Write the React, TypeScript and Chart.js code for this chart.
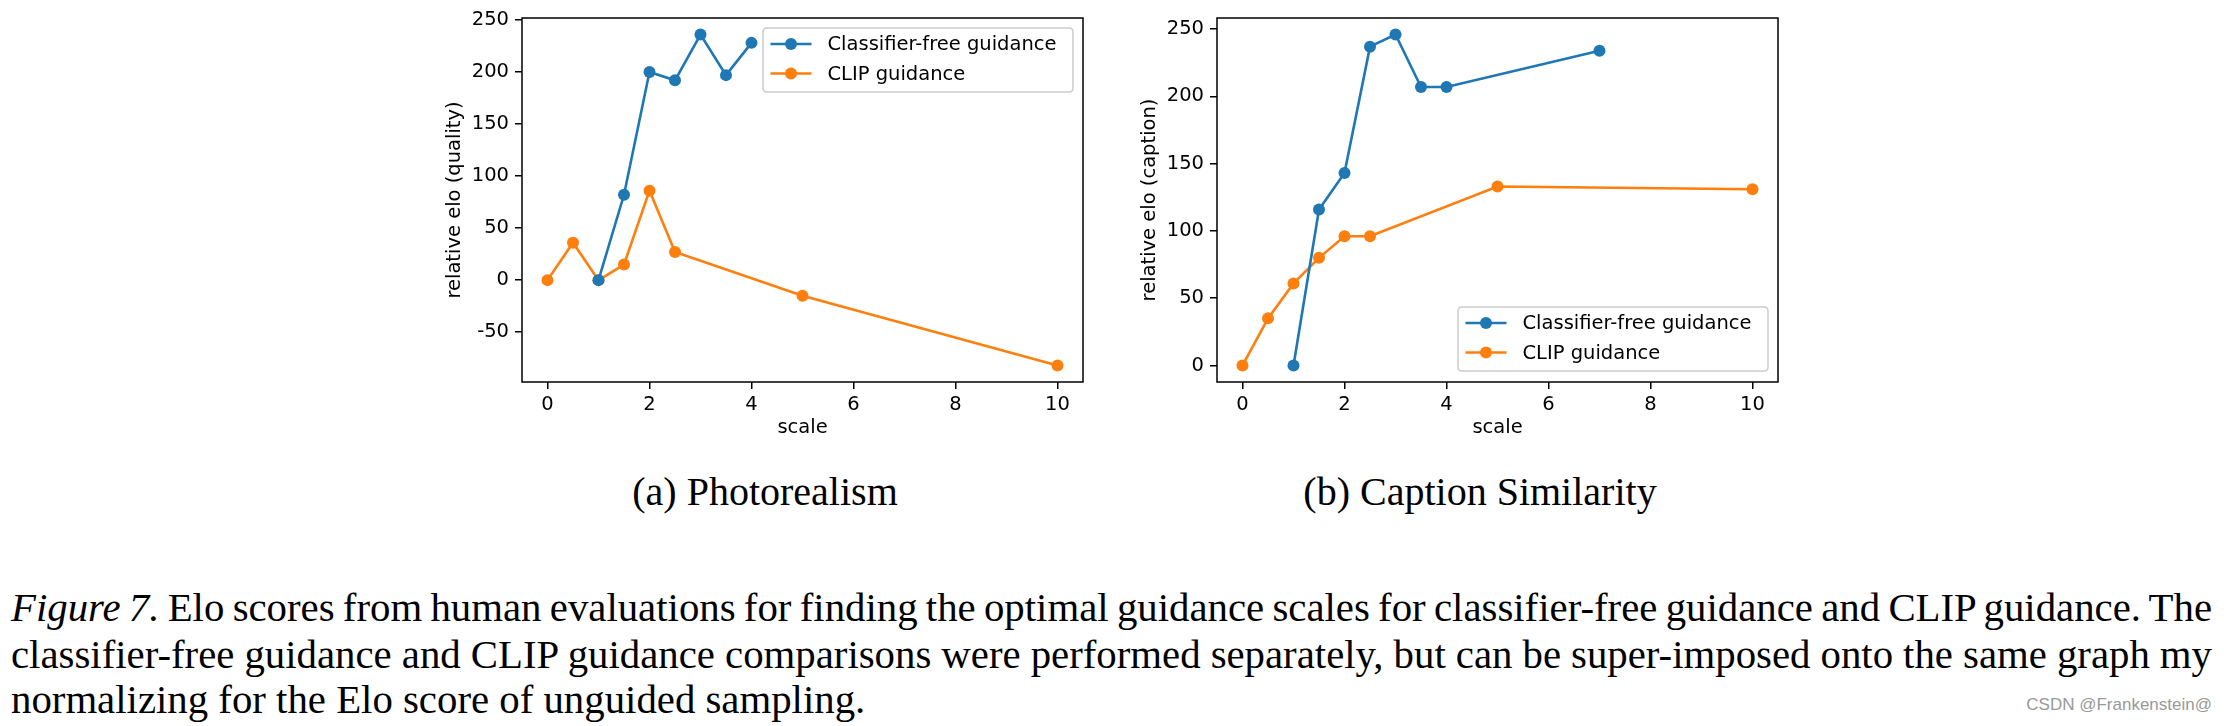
import React, { useEffect, useRef } from 'react';
import { Chart, registerables } from 'chart.js';

Chart.register(...registerables);

// ---- data ----
const seriesLabels = ['Classifier-free guidance', 'CLIP guidance'];
const seriesColors = ['#1f77b4', '#ff7f0e'];

const scaleA_cf = [1, 1.5, 2, 2.5, 3, 3.5, 4];
const eloA_cf = [0, 82, 200, 192, 236, 197, 228];
const scaleA_clip = [0, 0.5, 1, 1.5, 2, 2.5, 5, 10];
const eloA_clip = [0, 36, 0, 15, 86, 27, -15, -82];

const scaleB_cf = [1, 1.5, 2, 2.5, 3, 3.5, 4, 7];
const eloB_cf = [0, 116, 143, 237, 246, 207, 207, 234];
const scaleB_clip = [0, 0.5, 1, 1.5, 2, 2.5, 5, 10];
const eloB_clip = [0, 35, 61, 80, 96, 96, 133, 131];

const xTicks = [0, 2, 4, 6, 8, 10];
const yTicksA = [-50, 0, 50, 100, 150, 200, 250];
const yTicksB = [0, 50, 100, 150, 200, 250];

const FONT = '"DejaVu Sans", "Liberation Sans", sans-serif';
const FS = 19.5;

function pts(xs: number[], ys: number[]) {
  return xs.map((x, i) => ({ x, y: ys[i] }));
}

function marginRange(vals: number[]) {
  const lo = Math.min(...vals);
  const hi = Math.max(...vals);
  const m = (hi - lo) * 0.05;
  return [lo - m, hi + m];
}

const framePlugin = {
  id: 'frame',
  afterDatasetsDraw(chart: any) {
    const { ctx, chartArea } = chart;
    ctx.save();
    ctx.strokeStyle = '#000';
    ctx.lineWidth = 1.5;
    ctx.strokeRect(chartArea.left, chartArea.top, chartArea.right - chartArea.left, chartArea.bottom - chartArea.top);
    ctx.restore();
  },
};

const boxLegendPlugin = {
  id: 'boxLegend',
  afterDraw(chart: any, _args: any, opts: any) {
    const { ctx, chartArea } = chart;
    const w = 310;
    const h = 64;
    const x = chartArea.right - 10 - w;
    const y = opts.corner === 'top' ? chartArea.top + 10 : chartArea.bottom - 11 - h;
    ctx.save();
    const r = 4;
    ctx.beginPath();
    ctx.moveTo(x + r, y);
    ctx.lineTo(x + w - r, y);
    ctx.quadraticCurveTo(x + w, y, x + w, y + r);
    ctx.lineTo(x + w, y + h - r);
    ctx.quadraticCurveTo(x + w, y + h, x + w - r, y + h);
    ctx.lineTo(x + r, y + h);
    ctx.quadraticCurveTo(x, y + h, x, y + h - r);
    ctx.lineTo(x, y + r);
    ctx.quadraticCurveTo(x, y, x + r, y);
    ctx.closePath();
    ctx.fillStyle = 'rgba(255,255,255,0.8)';
    ctx.fill();
    ctx.strokeStyle = '#cccccc';
    ctx.lineWidth = 1.5;
    ctx.stroke();
    chart.data.datasets.forEach((ds: any, i: number) => {
      const cy = y + 16 + i * 29.5;
      const x0 = x + 7.5;
      const x1 = x0 + 41;
      ctx.strokeStyle = ds.borderColor;
      ctx.lineWidth = 2.6;
      ctx.beginPath();
      ctx.moveTo(x0, cy);
      ctx.lineTo(x1, cy);
      ctx.stroke();
      ctx.fillStyle = ds.borderColor;
      ctx.beginPath();
      ctx.arc((x0 + x1) / 2, cy, 6, 0, Math.PI * 2);
      ctx.fill();
      ctx.fillStyle = '#000';
      ctx.font = `${FS}px ${FONT}`;
      ctx.textBaseline = 'middle';
      ctx.textAlign = 'left';
      ctx.fillText(ds.label, x1 + 16, cy + 1);
    });
    ctx.restore();
  },
};

type PanelProps = {
  left: number;
  cfX: number[];
  cfY: number[];
  clipX: number[];
  clipY: number[];
  yTicks: number[];
  yLabel: string;
  yAxisWidth: number;
  yTitlePad: number;
  rightPad: number;
  legendCorner: 'top' | 'bottom';
};

const W = 700;
const H = 460;

function Panel(p: PanelProps) {
  const ref = useRef<HTMLCanvasElement | null>(null);
  useEffect(() => {
    if (!ref.current) return;
    const [ymin, ymax] = marginRange([...p.cfY, ...p.clipY]);
    const [xmin, xmax] = marginRange([...p.cfX, ...p.clipX]);
    const mkDs = (i: number, xs: number[], ys: number[]) => ({
      label: seriesLabels[i],
      data: pts(xs, ys),
      borderColor: seriesColors[i],
      backgroundColor: seriesColors[i],
      pointBackgroundColor: seriesColors[i],
      pointBorderWidth: 0,
      pointRadius: 6,
      borderWidth: 2.6,
      showLine: true,
      tension: 0,
      clip: false as any,
    });
    const tickFont = { family: FONT, size: FS };
    const chart = new Chart(ref.current, {
      type: 'line',
      data: {
        datasets: [mkDs(0, p.cfX, p.cfY), mkDs(1, p.clipX, p.clipY)],
      },
      options: {
        animation: false,
        responsive: false,
        devicePixelRatio: 1,
        layout: { padding: { left: 0, top: 18, right: p.rightPad, bottom: 0 } },
        plugins: {
          legend: { display: false },
          tooltip: { enabled: false },
          boxLegend: { corner: p.legendCorner },
        } as any,
        scales: {
          x: {
            type: 'linear',
            min: xmin,
            max: xmax,
            afterBuildTicks: (ax: any) => {
              ax.ticks = xTicks.map((v) => ({ value: v }));
            },
            afterFit: (ax: any) => {
              ax.height = 78;
            },
            grid: { drawOnChartArea: false, drawTicks: true, tickLength: 7, color: '#000', lineWidth: 1.5 },
            border: { display: false },
            ticks: { color: '#000', font: tickFont, padding: 4, maxRotation: 0, callback: (v: any) => String(v) },
            title: {
              display: true,
              text: 'scale',
              color: '#000',
              font: tickFont,
              padding: { top: 0, bottom: 20.3 },
            },
          },
          y: {
            type: 'linear',
            min: ymin,
            max: ymax,
            afterBuildTicks: (ax: any) => {
              ax.ticks = p.yTicks.map((v) => ({ value: v }));
            },
            afterFit: (ax: any) => {
              ax.width = p.yAxisWidth;
            },
            grid: { drawOnChartArea: false, drawTicks: true, tickLength: 7, color: '#000', lineWidth: 1.5 },
            border: { display: false },
            ticks: { color: '#000', font: tickFont, padding: 6, callback: (v: any) => String(v) },
            title: {
              display: true,
              text: p.yLabel,
              color: '#000',
              font: tickFont,
              padding: { top: p.yTitlePad, bottom: 0 },
            },
          },
        },
      } as any,
      plugins: [framePlugin, boxLegendPlugin],
    });
    return () => chart.destroy();
  }, []);
  return (
    <canvas
      ref={ref}
      width={W}
      height={H}
      style={{ position: 'absolute', left: p.left, top: 0, width: W, height: H }}
    />
  );
}

const serif = '"Liberation Serif", "Times New Roman", serif';

export default function App() {
  const lineStyle: React.CSSProperties = {
    position: 'absolute',
    left: 11,
    width: 2201,
    height: 46,
    lineHeight: '46px',
    fontSize: 40.8,
    fontFamily: serif,
    color: '#000',
    whiteSpace: 'nowrap',
  };
  const justified: React.CSSProperties = {
    textAlign: 'justify',
    textAlignLast: 'justify',
    whiteSpace: 'normal',
    wordSpacing: -5,
  };
  return (
    <div style={{ position: 'absolute', left: 0, top: 0, width: 2224, height: 726, background: '#fff', overflow: 'hidden' }}>
      <Panel
        left={420}
        cfX={scaleA_cf}
        cfY={eloA_cf}
        clipX={scaleA_clip}
        clipY={eloA_clip}
        yTicks={yTicksA}
        yLabel="relative elo (quality)"
        yAxisWidth={102}
        yTitlePad={23}
        rightPad={37}
        legendCorner="top"
      />
      <Panel
        left={1110}
        cfX={scaleB_cf}
        cfY={eloB_cf}
        clipX={scaleB_clip}
        clipY={eloB_clip}
        yTicks={yTicksB}
        yLabel="relative elo (caption)"
        yAxisWidth={107}
        yTitlePad={28.3}
        rightPad={32}
        legendCorner="bottom"
      />
      <div style={{ position: 'absolute', left: 565, width: 400, top: 469, height: 46, lineHeight: '46px', fontSize: 40, fontFamily: serif, textAlign: 'center' }}>
        (a) Photorealism
      </div>
      <div style={{ position: 'absolute', left: 1280, width: 400, top: 469, height: 46, lineHeight: '46px', fontSize: 40, fontFamily: serif, textAlign: 'center' }}>
        (b) Caption Similarity
      </div>
      <div style={{ ...lineStyle, ...justified, top: 585 }}>
        <i>Figure 7.</i> Elo scores from human evaluations for finding the optimal guidance scales for classifier-free guidance and CLIP guidance. The
      </div>
      <div style={{ ...lineStyle, ...justified, top: 632 }}>
        classifier-free guidance and CLIP guidance comparisons were performed separately, but can be super-imposed onto the same graph my
      </div>
      <div style={{ ...lineStyle, top: 677 }}>normalizing for the Elo score of unguided sampling.</div>
      <div style={{ position: 'absolute', right: 12, top: 694, fontSize: 17, lineHeight: '22px', fontFamily: '"Liberation Sans", Arial, sans-serif', color: '#999' }}>
        CSDN @Frankenstein@
      </div>
    </div>
  );
}
